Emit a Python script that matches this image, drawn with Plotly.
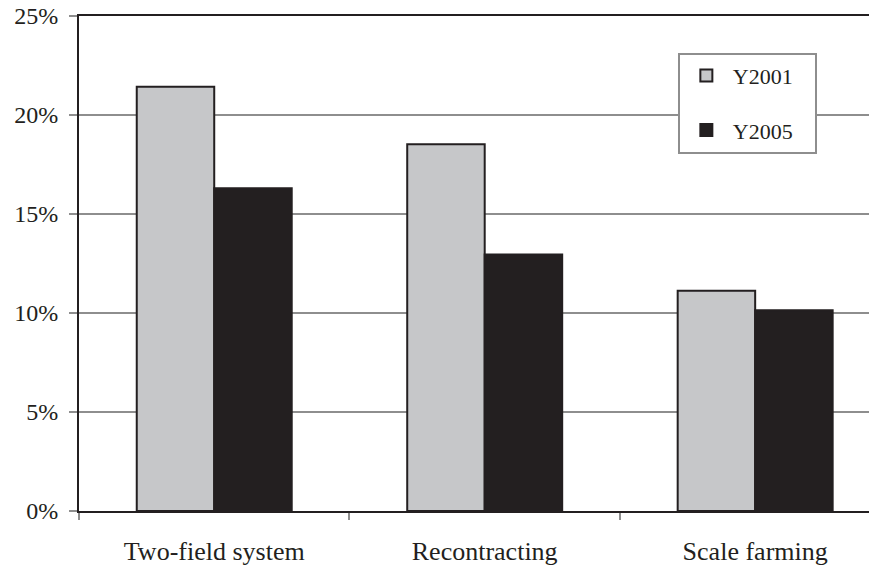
import plotly.graph_objects as go

categories = ["Two-field system", "Recontracting", "Scale farming"]
series_names = ["Y2001\u00a0\u00a0\u00a0", "Y2005\u00a0\u00a0\u00a0"]
y2001 = [21.43, 18.52, 11.13]
y2005 = [16.3, 12.96, 10.14]
y_ticks = [0, 5, 10, 15, 20, 25]
y_tick_labels = ["0%", "5%", "10%", "15%", "20%", "25%"]

ink = "#231f20"
font_family = "Liberation Serif, Times New Roman, serif"

fig = go.Figure()
fig.add_trace(go.Bar(
    name=series_names[0], x=categories, y=y2001,
    marker=dict(color="#c6c7c9", line=dict(color=ink, width=2)),
    legendgroup="a",
))
fig.add_trace(go.Bar(
    name=series_names[1], x=categories, y=y2005,
    marker=dict(color=ink, line=dict(color=ink, width=2)),
    legendgroup="b",
))

fig.update_layout(
    width=877, height=567,
    margin=dict(l=71, r=0, t=8, b=64),
    paper_bgcolor="white", plot_bgcolor="white",
    barmode="group", bargap=0.427, bargroupgap=0,
    font=dict(family=font_family, size=26, color=ink),
    hovermode=False,
    legend=dict(
        x=0.743, y=0.926, xanchor="left", yanchor="top",
        bordercolor="#8e8e8e", borderwidth=2, bgcolor="white",
        font=dict(size=22, family=font_family, color=ink),
        traceorder="grouped", tracegroupgap=23,
        itemwidth=43,
    ),
    xaxis=dict(
        type="category", range=[-0.5, 2.48], automargin=False,
        showline=True, linecolor=ink, linewidth=2, mirror=True,
        ticks="outside", tickson="boundaries", ticklen=7, tickcolor="#8e8e8e", tickwidth=2,
        showgrid=False, ticklabelstandoff=16,
    ),
    yaxis=dict(
        range=[0, 25], tickvals=y_ticks, ticktext=y_tick_labels, automargin=False,
        showline=True, linecolor=ink, linewidth=2,
        showgrid=True, gridcolor="#8e8e8e", gridwidth=2,
        ticks="outside", ticklen=8, tickcolor="#8e8e8e", tickwidth=2,
        zeroline=False, ticklabelstandoff=6, ticklabeloverflow="allow",
        tickfont=dict(size=24),
    ),
)

fig.write_html("out.html")
